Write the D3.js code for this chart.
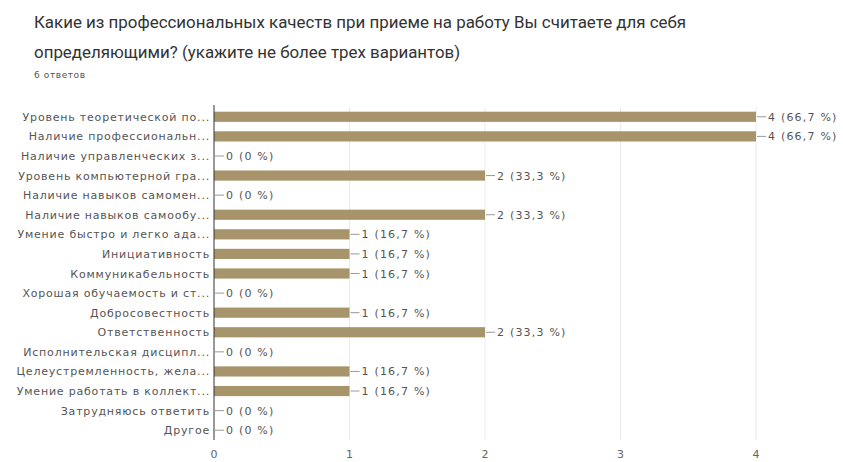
<!DOCTYPE html>
<html>
<head>
<meta charset="utf-8">
<script src="https://cdn.jsdelivr.net/npm/d3@7"></script>
<style>
  body { margin: 0; background: #fff; }
  text { font-family: "DejaVu Sans", sans-serif; }
  .title { font-family: Roboto, sans-serif; }
</style>
</head>
<body>
<div id="viz"></div>
<script>
var categories = [
  'Уровень теоретической по...',
  'Наличие профессиональн...',
  'Наличие управленческих з...',
  'Уровень компьютерной гра...',
  'Наличие навыков самомен...',
  'Наличие навыков самообу...',
  'Умение быстро и легко ада...',
  'Инициативность',
  'Коммуникабельность',
  'Хорошая обучаемость и ст...',
  'Добросовестность',
  'Ответственность',
  'Исполнительская дисципл...',
  'Целеустремленность, жела...',
  'Умение работать в коллект...',
  'Затрудняюсь ответить',
  'Другое'
];
var counts = [4, 4, 0, 2, 0, 2, 1, 1, 1, 0, 1, 2, 0, 1, 1, 0, 0];
var percents = ['66,7', '66,7', '0', '33,3', '0', '33,3', '16,7', '16,7', '16,7', '0', '16,7', '33,3', '0', '16,7', '16,7', '0', '0'];
var xTicks = [0, 1, 2, 3, 4];

var width = 843, height = 462;
var plotLeft = 214, plotRight = 756, plotTop = 107, plotBottom = 440;

var svg = d3.select('#viz').append('svg')
  .attr('width', width)
  .attr('height', height);

// title
svg.append('text').attr('class', 'title').attr('x', 34).attr('y', 28)
  .attr('font-size', 16.9).attr('fill', '#333')
  .text('Какие из профессиональных качеств при приеме на работу Вы считаете для себя');
svg.append('text').attr('class', 'title').attr('x', 34).attr('y', 58)
  .attr('font-size', 16.9).attr('fill', '#333')
  .text('определяющими? (укажите не более трех вариантов)');
svg.append('text').attr('x', 34).attr('y', 78)
  .attr('font-size', 9).attr('letter-spacing', 0.6).attr('fill', '#555')
  .text('6 ответов');

var xScale = d3.scaleLinear().domain([0, 4]).range([plotLeft, plotRight]);
var yScale = d3.scaleBand().domain(categories)
  .range([plotTop, plotBottom]).paddingInner(0.48).paddingOuter(0.24);

// grid
svg.selectAll('line.grid').data(xTicks.slice(1))
  .enter().append('line')
    .attr('class', 'grid')
    .attr('x1', function(d) { return xScale(d); })
    .attr('x2', function(d) { return xScale(d); })
    .attr('y1', plotTop).attr('y2', plotBottom)
    .attr('stroke', '#ebebeb');

// tick labels
svg.selectAll('text.tick').data(xTicks)
  .enter().append('text')
    .attr('class', 'tick')
    .attr('x', function(d) { return xScale(d); })
    .attr('y', 458)
    .attr('text-anchor', 'middle')
    .attr('font-size', 11).attr('fill', '#666')
    .text(function(d) { return d; });

// bars
svg.selectAll('rect').data(counts)
  .enter().append('rect')
    .attr('x', xScale(0))
    .attr('y', function(d, i) { return yScale(categories[i]); })
    .attr('width', function(d) { return xScale(d) - xScale(0); })
    .attr('height', yScale.bandwidth())
    .style('fill', '#a8946a');

// category labels
svg.selectAll('text.cat').data(categories)
  .enter().append('text')
    .attr('class', 'cat')
    .attr('x', plotLeft - 4)
    .attr('y', function(d) { return yScale(d) + yScale.bandwidth() / 2 + 4; })
    .attr('text-anchor', 'end')
    .attr('font-size', 11).attr('letter-spacing', 0.8).attr('fill', '#555')
    .text(function(d) { return d; });

// leader lines + values
svg.selectAll('line.lead').data(counts)
  .enter().append('line')
    .attr('class', 'lead')
    .attr('x1', function(d) { return xScale(d) + 1; })
    .attr('x2', function(d) { return xScale(d) + 10; })
    .attr('y1', function(d, i) { return yScale(categories[i]) + yScale.bandwidth() / 2; })
    .attr('y2', function(d, i) { return yScale(categories[i]) + yScale.bandwidth() / 2; })
    .attr('stroke', '#999');

svg.selectAll('text.val').data(counts)
  .enter().append('text')
    .attr('class', 'val')
    .attr('x', function(d) { return xScale(d) + 12; })
    .attr('y', function(d, i) { return yScale(categories[i]) + yScale.bandwidth() / 2 + 4; })
    .attr('font-size', 11).attr('letter-spacing', 1.2).attr('fill', '#555')
    .text(function(d, i) { return d + ' (' + percents[i] + ' %)'; });

// axis line
svg.append('line')
  .attr('x1', plotLeft).attr('x2', plotLeft)
  .attr('y1', plotTop - 2).attr('y2', plotBottom)
  .attr('stroke', '#333');
</script>
</body>
</html>
